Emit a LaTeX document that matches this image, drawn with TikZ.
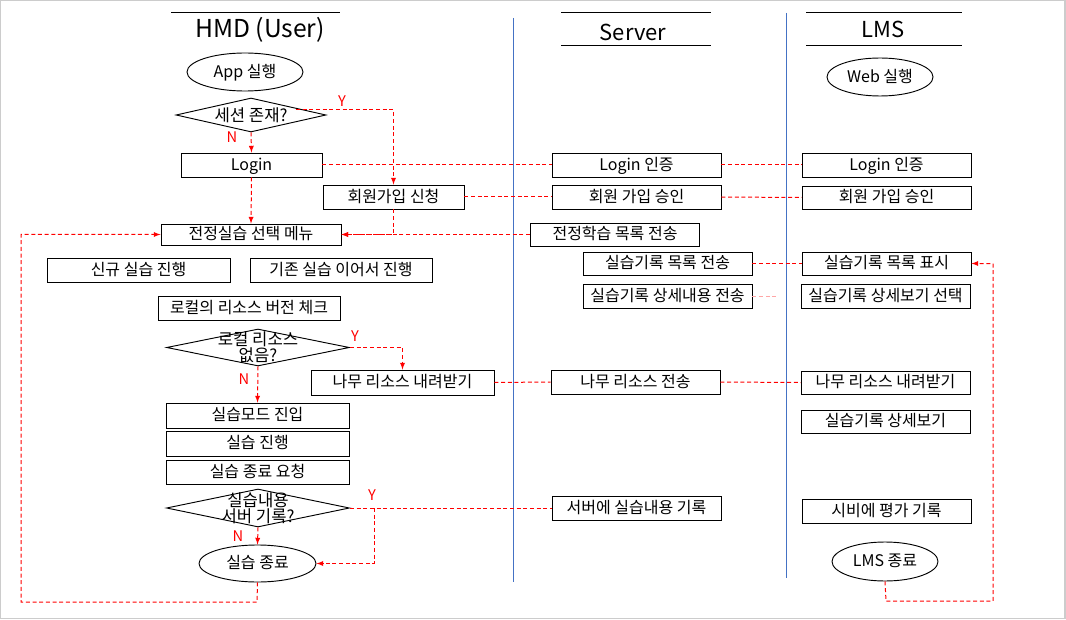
\documentclass[tikz,border=0pt]{standalone}
\usepackage{fontspec}
\setmainfont{Noto Sans CJK KR}
\usetikzlibrary{shapes.geometric, arrows}
\definecolor{laneblue}{HTML}{4472C4}
\tikzstyle{startstop} = [ellipse, draw=black, line width=0.7pt, inner sep=0pt, text height=0.95em, text depth=0.14em, font=\fontsize{12}{14}\selectfont]
\tikzstyle{process} = [rectangle, draw=black, line width=0.7pt, minimum width=169*0.75pt, minimum height=24*0.75pt, inner sep=1pt, text height=0.95em, text depth=0.14em, text centered, font=\fontsize{12}{14}\selectfont]
\tikzstyle{decision} = [diamond, draw=black, line width=0.7pt, inner sep=0pt, minimum width=183*0.75pt, minimum height=37*0.75pt]
\tikzstyle{dlabel} = [font=\fontsize{12.5}{12}\selectfont, align=center]
\tikzstyle{arrow} = [red, line width=0.75pt, dash pattern=on 3pt off 2pt, ->, >=latex]
\tikzstyle{link} = [red, line width=0.75pt, dash pattern=on 3pt off 2pt]
\tikzstyle{answer} = [red, font=\fontsize{11}{12}\selectfont]
\tikzstyle{lane} = [font=\fontsize{16.5}{18}\selectfont]

\begin{document}
\begin{tikzpicture}[x=0.75pt, y=-0.75pt]
		\useasboundingbox (0,0) rectangle (1066,620);
		\draw [black!20, line width=1pt] (0.5,0.5) rectangle (1065,618.5);
		% column heads
		\node (hmd) [lane, font=\fontsize{18.5}{20}\selectfont] at (260,30) {HMD (User)};
		\node (srv) [lane] at (633,32) {Server};
		\node (lms) [lane] at (883,29) {LMS};
		\draw [line width=0.7pt] (171,12) -- (340,12);
		\draw [line width=0.7pt] (561,12) -- (711,12) (561,45) -- (711,45);
		\draw [line width=0.7pt] (806,12) -- (962,12) (806,45) -- (962,45);
		\draw [laneblue, line width=0.6pt] (513,18) -- (513,582);
		\draw [laneblue, line width=0.6pt] (786,13) -- (786,578);
		% HMD
		\node (app) [startstop, minimum width=116*0.75pt, minimum height=38*0.75pt] at (245,72) {App 실행};
		\node (sess) [decision, minimum width=150*0.75pt, minimum height=34*0.75pt, label={[dlabel]center:세션 존재?}] at (251,115) {};
		\node (login) [process, minimum width=141*0.75pt] at (251.5,165) {Login};
		\node (join) [process, minimum width=141*0.75pt] at (393.5,197) {회원가입 신청};
		\node (menu) [process, minimum width=180*0.75pt, minimum height=21*0.75pt] at (251,234.5) {전정실습 선택 메뉴};
		\node (newp) [process, minimum width=183*0.75pt] at (138.5,270) {신규 실습 진행};
		\node (cont) [process, minimum width=182*0.75pt] at (341,270) {기존 실습 이어서 진행};
		\node (check) [process, minimum width=182*0.75pt] at (249,308) {로컬의 리소스 버전 체크};
		\node (local) [decision, label={[dlabel]center:로컬 리소스\\없음?}] at (258,347.5) {};
		\node (down) [process, minimum width=183*0.75pt, minimum height=25*0.75pt] at (402.5,382.5) {나무 리소스 내려받기};
		\node (enter) [process, minimum width=183*0.75pt, minimum height=25*0.75pt] at (257.5,415.5) {실습모드 진입};
		\node (prog) [process, minimum width=183*0.75pt, minimum height=25*0.75pt] at (257.5,443.5) {실습 진행};
		\node (req) [process, minimum width=183*0.75pt] at (257.5,472) {실습 종료 요청};
		\node (save) [decision, minimum height=38*0.75pt, label={[dlabel]center:실습내용\\서버 기록?}] at (258,508) {};
		\node (finish) [startstop, minimum width=117*0.75pt, minimum height=37*0.75pt] at (257.5,563.5) {실습 종료};
		% Server
		\node (slogin) [process] at (636.5,165) {Login 인증};
		\node (sjoin) [process] at (636.5,197) {회원 가입 승인};
		\node (slist) [process, minimum height=23*0.75pt] at (615,234.5) {전정학습 목록 전송};
		\node (srec) [process, minimum height=23*0.75pt] at (667.5,263.5) {실습기록 목록 전송};
		\node (sdet) [process] at (667.5,296) {실습기록 상세내용 전송};
		\node (sres) [process] at (635.5,382) {나무 리소스 전송};
		\node (ssave) [process] at (636.5,508) {서버에 실습내용 기록};
		% LMS
		\node (web) [startstop, minimum width=106*0.75pt, minimum height=38*0.75pt] at (880,77) {Web 실행};
		\node (llogin) [process] at (886.5,165) {Login 인증};
		\node (ljoin) [process, minimum height=23*0.75pt] at (886.5,197.5) {회원 가입 승인};
		\node (lrec) [process, minimum height=23*0.75pt] at (886.5,263.5) {실습기록 목록 표시};
		\node (lsel) [process] at (885.5,296) {실습기록 상세보기 선택};
		\node (lres) [process, minimum height=23*0.75pt] at (885.5,382.5) {나무 리소스 내려받기};
		\node (lview) [process, minimum height=23*0.75pt] at (885.5,421.5) {실습기록 상세보기};
		\node (leval) [process] at (886.5,511) {시비에 평가 기록};
		\node (lend) [startstop, minimum width=106*0.75pt, minimum height=39*0.75pt] at (885,561.5) {LMS 종료};
		% Y / N
		\node (n1) [answer] at (232,137) {N};
		\node (y1) [answer] at (342,101) {Y};
		\node (y2) [answer] at (355,336) {Y};
		\node (n2) [answer] at (244,379) {N};
		\node (y3) [answer] at (372,495) {Y};
		\node (n3) [answer] at (238,536) {N};
		% free ends
		\coordinate (s1) at (296,110);
		\coordinate (sb) at (374,508);
		\coordinate (c1) at (257,602);
		\coordinate (c2) at (21,602);
		\coordinate (c3) at (886,601);
		\coordinate (c4) at (993,601);
		\coordinate (pk) at (776,296);
		% connectors
		\draw [arrow] (sess.south) -- (login.north);
		\draw [arrow] (s1) -| (join.north);
		\draw [arrow] (login.south) -- (menu.north);
		\draw [arrow] (join.south) |- (menu.east);
		\draw [arrow] (slist.west) -- (menu.east);
		\draw [link] (login.east) -- (slogin.west);
		\draw [link] (slogin.east) -- (llogin.west);
		\draw [link] (join.east) -- (sjoin.west);
		\draw [link] (sjoin.east) -- (ljoin.west);
		\draw [link] (srec.east) -- (lrec.west);
		\draw [link, red!35] (sdet.east) -- (pk);
		\draw [arrow] (local.east) -| (down.north);
		\draw [arrow] (local.south) -- (enter.north);
		\draw [link] (down.east) -- (sres.west);
		\draw [link] (sres.east) -- (lres.west);
		\draw [link] (save.east) -- (ssave.west);
		\draw [arrow] (sb) |- (finish.east);
		\draw [arrow] (save.south) -- (finish.north);
		\draw [arrow] (finish.south) -- (c1) -- (c2) |- (menu.west);
		\draw [arrow] (lend.south) -- (c3) -- (c4) |- (lrec.east);
	\end{tikzpicture}
\end{document}
